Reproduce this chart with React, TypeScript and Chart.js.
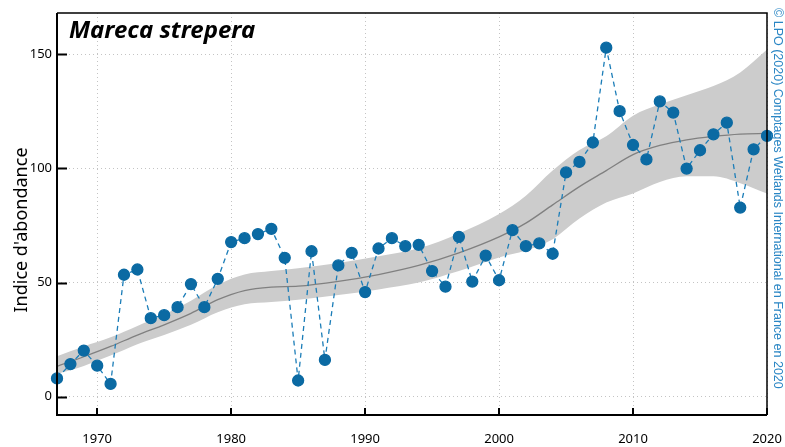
import React, { useEffect, useRef } from "react";
import { Chart, registerables } from "chart.js";

Chart.register(...registerables);

const years: number[] = [
  1967, 1968, 1969, 1970, 1971, 1972, 1973, 1974, 1975, 1976, 1977, 1978, 1979,
  1980, 1981, 1982, 1983, 1984, 1985, 1986, 1987, 1988, 1989, 1990, 1991, 1992,
  1993, 1994, 1995, 1996, 1997, 1998, 1999, 2000, 2001, 2002, 2003, 2004, 2005,
  2006, 2007, 2008, 2009, 2010, 2011, 2012, 2013, 2014, 2015, 2016, 2017, 2018,
  2019, 2020,
];
const abundance: number[] = [
  8.0, 14.3, 20.2, 13.6, 5.6, 53.4, 55.7, 34.4, 35.7, 39.2, 49.3, 39.2, 51.6,
  67.7, 69.4, 71.2, 73.5, 60.8, 7.1, 63.7, 16.1, 57.5, 63.0, 45.8, 64.9, 69.4,
  65.9, 66.5, 55.0, 48.2, 70.0, 50.4, 61.8, 51.0, 72.9, 65.9, 67.1, 62.6, 98.2,
  102.8, 111.3, 152.8, 125.0, 110.2, 103.9, 129.3, 124.4, 99.9, 107.9, 114.9,
  120.0, 82.8, 108.3, 114.2,
];

const trendYears: number[] = [
  1967, 1969, 1971, 1973, 1975, 1977, 1979, 1981, 1983, 1985, 1988, 1991, 1994,
  1997, 2000, 2002, 2004, 2006, 2008, 2010, 2012, 2014, 2016, 2018, 2020,
];
const trend: number[] = [
  13.3, 17.5, 22, 27, 31.5, 36.5, 42.5, 46.5, 48, 48.4, 50.5, 53.5, 57.5, 63,
  70, 76, 84, 92, 99, 106, 110, 112.5, 114, 115, 115.3,
];
const trendUpper: number[] = [
  17.7, 22, 26, 31, 36, 42, 49, 53.5, 55, 56.3, 58.5, 61.5, 65, 71.5, 80, 88,
  99, 108, 114, 123, 128, 132, 136, 142, 152,
];
const trendLower: number[] = [
  10, 13.5, 18, 23, 27, 31.5, 37, 40.5, 41.5, 42.5, 44.5, 47, 50, 55, 61, 64,
  69, 78, 85, 89, 94, 96.5, 96.5, 93.5, 89,
];

const xTicks: number[] = [1970, 1980, 1990, 2000, 2010, 2020];
const yTicks: number[] = [0, 50, 100, 150];

const speciesName = "Mareca strepera";
const yTitle = "Indice d'abondance";
const credit =
  "© LPO (2020) Comptages Wetlands International en France en 2020";

const pts = (xs: number[], ys: number[]) => xs.map((x, i) => ({ x, y: ys[i] }));

const framePlugin = {
  id: "framePlugin",
  afterDraw(chart: any) {
    const { ctx, chartArea } = chart;
    const xs = chart.scales.x;
    const ys = chart.scales.y;
    const { left, right, top, bottom } = chartArea;
    ctx.save();
    // frame
    ctx.strokeStyle = "#000";
    ctx.lineWidth = 1.5;
    ctx.beginPath();
    ctx.moveTo(left, top);
    ctx.lineTo(right, top);
    ctx.lineTo(right, bottom);
    ctx.stroke();
    ctx.lineWidth = 2;
    ctx.beginPath();
    ctx.moveTo(left, top);
    ctx.lineTo(left, bottom);
    ctx.lineTo(right, bottom);
    ctx.stroke();
    // inward ticks
    ctx.lineWidth = 2;
    ctx.beginPath();
    xTicks.forEach((v) => {
      const px = Math.round(xs.getPixelForValue(v));
      ctx.moveTo(px, bottom);
      ctx.lineTo(px, bottom - 7);
    });
    yTicks.forEach((v) => {
      const py = Math.round(ys.getPixelForValue(v)) + 0.5;
      ctx.moveTo(left, py);
      ctx.lineTo(left + 10, py);
    });
    ctx.stroke();
    // species title
    ctx.fillStyle = "#000";
    ctx.font = "italic bold 24px 'Noto Sans', sans-serif";
    ctx.textAlign = "left";
    ctx.textBaseline = "alphabetic";
    ctx.fillText(speciesName, 69, 38);
    // y title
    ctx.save();
    ctx.translate(22, 230);
    ctx.rotate(-Math.PI / 2);
    ctx.font = "18px 'Noto Sans', sans-serif";
    ctx.textAlign = "center";
    ctx.textBaseline = "middle";
    ctx.fillText(yTitle, 0, 0);
    ctx.restore();
    // credit
    ctx.save();
    ctx.translate(777, 8);
    ctx.rotate(Math.PI / 2);
    ctx.font = "12.5px 'Liberation Sans', Arial, sans-serif";
    ctx.fillStyle = "#2a86c4";
    ctx.textAlign = "left";
    ctx.textBaseline = "middle";
    ctx.fillText(credit, 0, 0);
    ctx.restore();
    ctx.restore();
  },
};

export default function App() {
  const ref = useRef<HTMLCanvasElement>(null);
  useEffect(() => {
    document.body.style.margin = "0";
    const canvas = ref.current;
    if (!canvas) return;
    const tickFont = { family: "'Noto Sans', sans-serif", size: 13 };
    const chart = new Chart(canvas, {
      type: "line",
      data: {
        datasets: [
          {
            label: "abundance",
            data: pts(years, abundance),
            borderColor: "#1b7db8",
            backgroundColor: "#0b6aa3",
            pointBackgroundColor: "#0b6aa3",
            pointBorderColor: "#0b6aa3",
            pointRadius: 5.5,
            borderWidth: 1.3,
            borderDash: [5, 4],
            fill: false,
            clip: false as any,
            order: 0,
          },
          {
            label: "trend",
            data: pts(trendYears, trend),
            borderColor: "#808080",
            borderWidth: 1.3,
            pointRadius: 0,
            fill: false,
            cubicInterpolationMode: "monotone",
            order: 1,
          },
          {
            label: "upper",
            data: pts(trendYears, trendUpper),
            borderWidth: 0,
            borderColor: "rgba(0,0,0,0)",
            backgroundColor: "#cccccc",
            pointRadius: 0,
            fill: false,
            cubicInterpolationMode: "monotone",
            order: 2,
          },
          {
            label: "lower",
            data: pts(trendYears, trendLower),
            borderWidth: 0,
            borderColor: "rgba(0,0,0,0)",
            backgroundColor: "#cccccc",
            pointRadius: 0,
            fill: "-1",
            cubicInterpolationMode: "monotone",
            order: 3,
          },
        ],
      },
      options: {
        animation: false,
        responsive: true,
        maintainAspectRatio: false,
        layout: { padding: { left: 0, right: 18, top: 13, bottom: 0 } },
        plugins: {
          legend: { display: false },
          tooltip: { enabled: false },
          title: { display: false },
        },
        scales: {
          x: {
            type: "linear",
            min: 1967,
            max: 2020,
            afterBuildTicks: (s: any) => {
              s.ticks = xTicks.map((v) => ({ value: v }));
            },
            afterFit: (s: any) => {
              s.height = 32;
              s.paddingRight = 0;
              s.paddingLeft = 0;
            },
            ticks: {
              padding: 16,
              color: "#000",
              font: tickFont,
              maxRotation: 0,
              callback: (v: any) => String(v),
            },
            grid: {
              color: "#c4c4c4",
              lineWidth: 1,
              drawTicks: false,
            },
            border: { display: false, dash: [1, 3] },
          },
          y: {
            type: "linear",
            min: -8,
            max: 168,
            afterBuildTicks: (s: any) => {
              s.ticks = yTicks.map((v) => ({ value: v }));
            },
            afterFit: (s: any) => {
              s.width = 57;
              s.paddingTop = 0;
              s.paddingBottom = 0;
            },
            ticks: {
              padding: 5,
              color: "#000",
              font: tickFont,
              callback: (v: any) => String(v),
            },
            grid: {
              color: "#c4c4c4",
              lineWidth: 1,
              drawTicks: false,
            },
            border: { display: false, dash: [1, 3] },
          },
        },
      },
      plugins: [framePlugin],
    } as any);
    return () => chart.destroy();
  }, []);
  return (
    <div style={{ width: 785, height: 447, position: "relative" }}>
      <canvas ref={ref} />
    </div>
  );
}
